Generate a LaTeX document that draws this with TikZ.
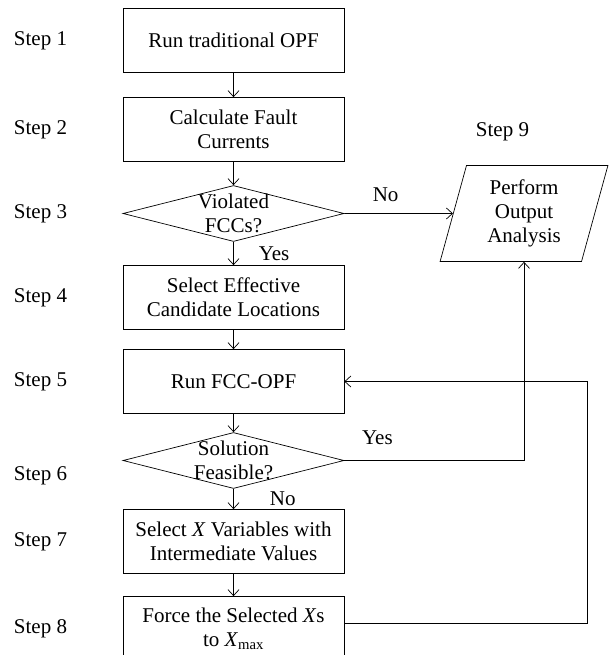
\documentclass[tikz,border=0pt]{standalone}
\usepackage{fontspec}
\setmainfont{Liberation Serif}
\usetikzlibrary{shapes.geometric,arrows.meta}
\begin{document}
\begin{tikzpicture}[->,>={Straight Barb[length=6pt,width=11pt]},node distance=84pt,line width=0.7pt,
    every node/.style={font=\fontsize{21}{24}\selectfont,inner sep=2pt},
    block/.style={rectangle,draw,minimum width=221pt,minimum height=64pt,align=center},
    decision/.style={diamond,draw,minimum width=221pt,minimum height=56pt,inner sep=0pt},
    io/.style={trapezium,trapezium left angle=76,trapezium right angle=104,trapezium stretches=true,draw,minimum width=168pt,minimum height=96pt,align=center},
    steplabel/.style={node distance=193pt}]
      \useasboundingbox (0pt,0pt) rectangle (611pt,-655pt);
      % Main column
      \node[block] (b1) at (233.5pt,-40.5pt) {Run traditional OPF};
      \node[block,below of=b1,yshift=-5pt] (b2) {Calculate Fault\\Currents};
      \node[decision,below of=b2,label={[align=center]center:Violated\\FCCs?}] (d3) {};
      \node[block,below of=d3] (b4) {Select Effective\\Candidate Locations};
      \node[block,below of=b4] (b5) {Run FCC-OPF};
      \node[decision,below of=b5,yshift=5pt,label={[align=center]center:Solution\\Feasible?}] (d6) {};
      \node[block,below of=d6,yshift=3pt] (b7) {Select \textit{X} Variables with\\Intermediate Values};
      \node[block,below of=b7,yshift=-3pt] (b8) {Force the Selected \textit{X}s\\to \textit{X}\textsubscript{max}};
      
      % Output
      \node[io,right of=d3,node distance=290.5pt] (out) {Perform\\Output\\Analysis};
      
      % Step labels
      \node[steplabel,left of=b1] (s1) {Step 1};
      \node[steplabel,left of=b2] (s2) {Step 2};
      \node[steplabel,left of=d3] (s3) {Step 3};
      \node[steplabel,left of=b4] (s4) {Step 4};
      \node[steplabel,left of=b5] (s5) {Step 5};
      \node[steplabel,left of=d6,yshift=-15pt] (s6) {Step 6};
      \node[steplabel,left of=b7] (s7) {Step 7};
      \node[steplabel,left of=b8] (s8) {Step 8};
      \node[above of=out,node distance=82pt,xshift=-21.5pt] (s9) {Step 9};
      
      % Edges
      \draw (b1) -- (b2);
      \draw (b2) -- (d3);
      \draw (d3) -- node[right=23pt] {Yes} (b4);
      \draw (b4) -- (b5);
      \draw (b5) -- (d6);
      \draw (d6) -- node[right=34pt] {No} (b7);
      \draw (b7) -- (b8);
      \draw (d3.east) -- node[above=9pt,pos=0.38] {No} (out.west);
      \draw (d6.east) -| node[above=13pt,pos=0.092] {Yes} (out.south);
      \draw ([yshift=5pt]b8.east) -- ++(243pt,0) |- (b5.east);
    \end{tikzpicture}
\end{document}
